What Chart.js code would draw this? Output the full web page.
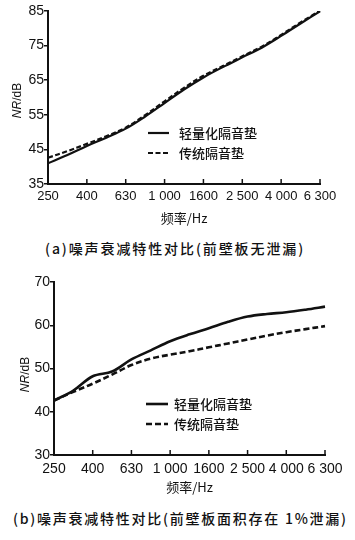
<!DOCTYPE html>
<html><head><meta charset="utf-8">
<script src="https://cdn.jsdelivr.net/npm/chart.js@4.4.1/dist/chart.umd.min.js"></script>
<style>
html,body{margin:0;padding:0;background:#fff;width:355px;height:540px;overflow:hidden;}
.wrap{position:absolute;left:0;width:355px;}
#wa{top:0;height:230px;}
#wb{top:262px;height:235px;}
.cap{position:absolute;white-space:pre;font-family:"Noto Sans CJK SC",sans-serif;font-size:14px;font-weight:500;color:#111;line-height:1;}
</style></head><body>
<div class="wrap" id="wa"><canvas id="ca"></canvas></div>
<div class="wrap" id="wb"><canvas id="cb"></canvas></div>
<div class="cap" id="capA" style="left:45px;top:241px;letter-spacing:1.9px"></div>
<div class="cap" id="capB" style="left:13px;top:511px;letter-spacing:1.75px"></div>
<script>
// ---- data ----
const freqBands = ['250','315','400','500','630','800','1000','1250','1600','2000','2500','3150','4000','5000','6300'];
const xTickLabels = ['250','400','630','1 000','1600','2 500','4 000','6 300'];
const seriesNames = ['轻量化隔音垫','传统隔音垫'];
const lightA = [41.0, 43.4, 46.0, 48.4, 51.0, 54.5, 58.4, 62.3, 65.8, 68.8, 71.6, 74.4, 77.8, 81.4, 84.9];
const tradA  = [42.6, 44.5, 46.6, 48.8, 51.3, 54.9, 58.9, 62.8, 66.3, 69.1, 71.9, 74.7, 78.1, 81.7, 85.1];
const lightB = [42.6, 44.9, 48.2, 49.3, 52.1, 54.2, 56.3, 57.9, 59.3, 60.8, 62.0, 62.6, 63.0, 63.6, 64.3];
const tradB  = [42.6, 44.6, 46.5, 48.6, 50.8, 52.3, 53.2, 54.0, 54.9, 55.8, 56.7, 57.6, 58.4, 59.1, 59.8];
const yRangeA = [35, 85];
const yRangeB = [30, 70];
const yTitleParts = ['NR', '/dB'];
const xTitle = '频率/Hz';
const captionA = '(a)噪声衰减特性对比(前壁板无泄漏)';
const captionB = '(b)噪声衰减特性对比(前壁板面积存在 1%泄漏)';

document.getElementById('capA').textContent = captionA;
document.getElementById('capB').textContent = captionB;

const INK = '#111';
const NUMFONT = '"Liberation Sans", Arial, sans-serif';
const CJKFONT = '"Noto Sans CJK SC", sans-serif';

const decor = {
  id: 'decor',
  afterDraw(chart, args, o) {
    const ctx = chart.ctx, ca = chart.chartArea, xs = chart.scales.x;
    ctx.save();
    // inward x ticks at labelled bands
    ctx.strokeStyle = INK; ctx.lineWidth = o.tickWidth;
    xs.ticks.forEach((t, i) => {
      if (i % 2 === 0 && i > 0) {
        const px = xs.getPixelForTick(i);
        ctx.beginPath(); ctx.moveTo(px, ca.bottom); ctx.lineTo(px, ca.bottom - o.tickLen); ctx.stroke();
      }
    });
    // y title with italic NR
    ctx.save();
    ctx.translate(o.yTitleX, (ca.top + ca.bottom) / 2 + o.yTitleDy);
    ctx.rotate(-Math.PI / 2);
    const f1 = 'italic ' + o.yTitleSize + 'px ' + NUMFONT;
    const f2 = o.yTitleSize + 'px ' + NUMFONT;
    ctx.font = f1; const w1 = ctx.measureText(yTitleParts[0]).width;
    ctx.font = f2; const w2 = ctx.measureText(yTitleParts[1]).width;
    ctx.textBaseline = 'middle'; ctx.textAlign = 'left'; ctx.fillStyle = INK;
    const x0 = -(w1 + w2) / 2;
    ctx.font = f1; ctx.fillText(yTitleParts[0], x0, 0);
    ctx.font = f2; ctx.fillText(yTitleParts[1], x0 + w1, 0);
    ctx.restore();
    // legend inside plot
    chart.data.datasets.forEach((ds, k) => {
      const y = ca.top + o.legY + k * o.legRow;
      const x = ca.left + o.legX;
      ctx.beginPath();
      ctx.setLineDash(ds.borderDash || []);
      ctx.lineWidth = ds.borderWidth; ctx.strokeStyle = ds.borderColor;
      ctx.moveTo(x, y); ctx.lineTo(x + o.legLine, y); ctx.stroke();
      ctx.setLineDash([]);
      ctx.font = o.legFont; ctx.fillStyle = INK; ctx.textAlign = 'left'; ctx.textBaseline = 'middle';
      ctx.fillText(ds.label, x + o.legLine + o.legGap, y);
    });
    ctx.restore();
  }
};

function makeChart(id, light, trad, yr, cfg) {
  return new Chart(document.getElementById(id), {
    type: 'line',
    data: {
      labels: freqBands,
      datasets: [
        { label: seriesNames[0], data: light, borderColor: INK, borderWidth: cfg.lw, pointRadius: 0, tension: 0.35, fill: false },
        { label: seriesNames[1], data: trad, borderColor: INK, borderWidth: cfg.lw, borderDash: cfg.dash, pointRadius: 0, tension: 0.35, fill: false }
      ]
    },
    options: {
      responsive: true, maintainAspectRatio: false, animation: false,
      layout: { padding: { left: 0, right: cfg.padR, top: cfg.padT, bottom: 0 } },
      plugins: {
        legend: { display: false }, tooltip: { enabled: false },
        decor: cfg.decor
      },
      scales: {
        x: {
          type: 'category', offset: false,
          grid: { display: false, drawTicks: false },
          border: { display: true, color: INK, width: 2 },
          ticks: {
            autoSkip: false, maxRotation: 0, minRotation: 0, padding: cfg.xPad, color: INK,
            font: { family: NUMFONT, size: cfg.xFont },
            callback: (v, i) => (i % 2 === 0 ? xTickLabels[i / 2] : '')
          },
          title: { display: true, text: xTitle, color: INK, font: { family: CJKFONT, size: 13 }, padding: { top: 0, bottom: cfg.xTitlePadB } },
          afterFit: s => { s.height = cfg.xH; }
        },
        y: {
          min: yr[0], max: yr[1],
          grid: { display: true, drawOnChartArea: false, drawTicks: true, tickLength: 4, color: INK, lineWidth: 1.5 },
          border: { display: true, color: INK, width: 2 },
          ticks: { stepSize: 10, padding: 0, color: INK, font: { family: NUMFONT, size: 14 } },
          afterFit: s => { s.width = cfg.yW; }
        }
      }
    },
    plugins: [decor]
  });
}

makeChart('ca', lightA, tradA, yRangeA, {
  lw: 2.2, dash: [5, 2.5], padR: 35, padT: 11, xPad: 5, xFont: 13, xTitlePadB: 4, xH: 46, yW: 48,
  decor: { tickWidth: 1.5, tickLen: 5, yTitleX: 18, yTitleDy: 3, yTitleSize: 12,
           legX: 100, legY: 122, legRow: 20, legLine: 21, legGap: 10, legFont: '500 13px ' + CJKFONT }
});
makeChart('cb', lightB, tradB, yRangeB, {
  lw: 2.6, dash: [6, 3], padR: 30, padT: 20, xPad: 6, xFont: 14, xTitlePadB: 2, xH: 42, yW: 54,
  decor: { tickWidth: 1.5, tickLen: 5, yTitleX: 26, yTitleDy: 6, yTitleSize: 12,
           legX: 92, legY: 122, legRow: 20, legLine: 22, legGap: 6, legFont: '500 13px ' + CJKFONT }
});
</script>
</body></html>
